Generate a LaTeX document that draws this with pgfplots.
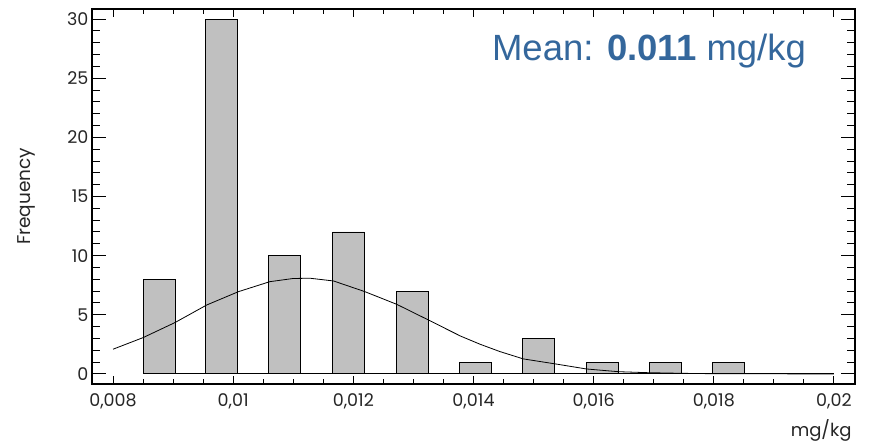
\documentclass[border=0pt]{standalone}
\usepackage{fontspec}
\setmainfont{Poppins}
\newfontfamily\arialfont{Liberation Sans}
\usepackage{pgfplots}
\pgfplotsset{compat=1.18}
\definecolor{meanblue}{RGB}{52,103,156}
\definecolor{bargray}{RGB}{192,192,192}
\begin{document}
\begin{tikzpicture}[x=1pt,y=1pt]
\useasboundingbox (0,0) rectangle (871,441);
\begin{axis}[
  at={(92pt,57pt)}, anchor=south west,
  scale only axis, width=763pt, height=375pt,
  xmin=0.00765, xmax=0.02035, ymin=-0.85, ymax=30.85,
  axis line style={line width=1.3pt},
  tick align=inside,
  xtick={0.008,0.010,0.012,0.014,0.016,0.018,0.020},
  xticklabels={{0,008},{0,01},{0,012},{0,014},{0,016},{0,018},{0,02}},
  minor x tick num=3,
  ytick={0,5,10,15,20,25,30},
  yticklabels={0,5,10,15,20,25,30},
  minor y tick num=4,
  major tick length=14pt, minor tick length=7.7pt,
  xtick style={/pgfplots/major tick length=8pt, /pgfplots/minor tick length=5pt, line width=1pt, black},
  ytick style={line width=1pt, black},
  tick label style={font=\fontsize{17.5}{20}\selectfont, text=black!85},
  xticklabel style={yshift=-6pt},
  scaled x ticks=false,
  ylabel={Frequency},
  ylabel style={font=\fontsize{18.5}{20}\selectfont, text=black!85, at={(axis description cs:-0.0865,0.5)}, anchor=center},
  xlabel={mg/kg},
  xlabel style={font=\fontsize{18}{20}\selectfont, text=black!85, at={(axis description cs:1,0)}, anchor=east, yshift=-46pt},
  clip=false,
]
\addplot[black, line width=1pt] coordinates {(0.0085,0) (0.0200,0)};
\addplot[ybar, bar width=0.00053, fill=bargray, draw=black, line width=0.9pt] coordinates {
  (0.00877,8) (0.00981,30) (0.01086,10) (0.01192,12) (0.01298,7)
  (0.01403,1) (0.01508,3) (0.01614,1) (0.01719,1) (0.01825,1)};
\addplot[black, line width=0.8pt, no marks] coordinates {
  (0.0080,2.09) (0.0085,3.07) (0.00903,4.34) (0.00956,5.83) (0.01009,6.96)
  (0.01061,7.80) (0.0110,8.07) (0.01128,8.09) (0.01167,7.86) (0.01219,6.96)
  (0.01272,5.89) (0.01325,4.56) (0.01378,3.21) (0.01411,2.51) (0.01444,1.89)
  (0.01483,1.27) (0.01536,0.85) (0.01588,0.42) (0.01641,0.19) (0.01688,0.11)
  (0.0175,0.05) (0.018,0.02) (0.019,0.01) (0.020,0.0)};
\end{axis}
\node[font=\arialfont\fontsize{36.5}{40}\selectfont, text=meanblue] at (649,390) {Mean: \textbf{0.011} mg/kg};
\end{tikzpicture}
\end{document}
